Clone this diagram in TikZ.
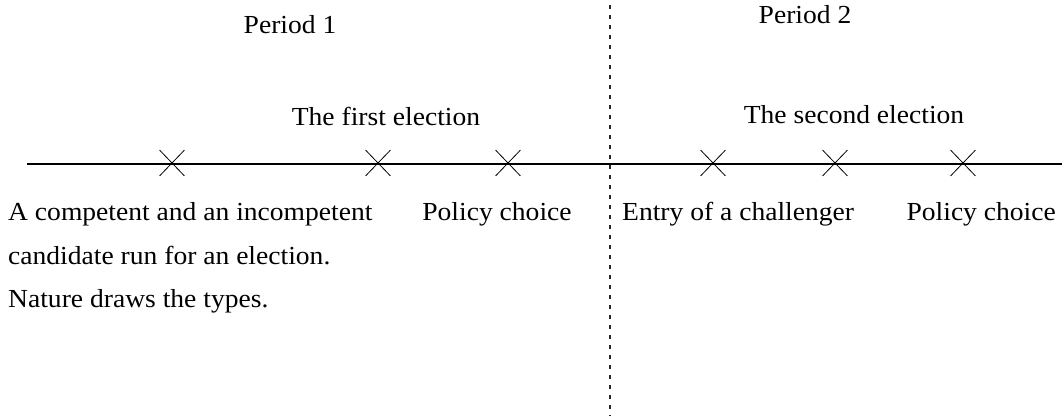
\documentclass[tikz,border=0pt]{standalone}
\usepackage{fontspec}
\setmainfont[FakeStretch=1.06]{Liberation Serif}
\usetikzlibrary{shapes.misc}
\begin{document}
\begin{tikzpicture}[x=1pt,y=-1pt,
  lbl/.style={inner sep=0pt, font=\fontsize{26}{30}\selectfont},
  tick/.style={cross out, draw=black, line width=0.8pt, minimum width=24pt, minimum height=25pt, inner sep=0pt},
  timeline/.style={draw=black, line width=1.1pt},
  divider/.style={draw=black!85, line width=1.2pt, dash pattern=on 4pt off 6pt}]
\useasboundingbox (0,0) rectangle (1062,416);
% divider
\coordinate (dtop) at (610,5);
\coordinate (dbot) at (610,416);
\draw[divider] (dtop) -- (dbot);
% timeline
\coordinate (ls) at (27,164);
\coordinate (le) at (1062,164);
\draw[timeline] (ls) -- (le);
\node[tick] (c1) at (172,163) {};
\node[tick] (c2) at (378,163) {};
\node[tick] (c3) at (508,163) {};
\node[tick] (c4) at (713,163) {};
\node[tick] (c5) at (835,163) {};
\node[tick] (c6) at (963,163) {};
% labels
\node[lbl, anchor=base] (p1) at (290,33) {Period 1};
\node[lbl, anchor=base] (p2) at (805,23) {Period 2};
\node[lbl, anchor=base] (e1) at (386,125) {The first election};
\node[lbl, anchor=base] (e2) at (854,123) {The second election};
\node[lbl, anchor=base west] (a1) at (8,220) {A competent and an incompetent};
\node[lbl, anchor=base west] (a2) at (8,264) {candidate run for an election.};
\node[lbl, anchor=base west] (a3) at (8,307) {Nature draws the types.};
\node[lbl, anchor=base] (pc1) at (497,220) {Policy choice};
\node[lbl, anchor=base west] (en) at (622,220) {Entry of a challenger};
\node[lbl, anchor=base east] (pc2) at (1056,220) {Policy choice};
\end{tikzpicture}
\end{document}
